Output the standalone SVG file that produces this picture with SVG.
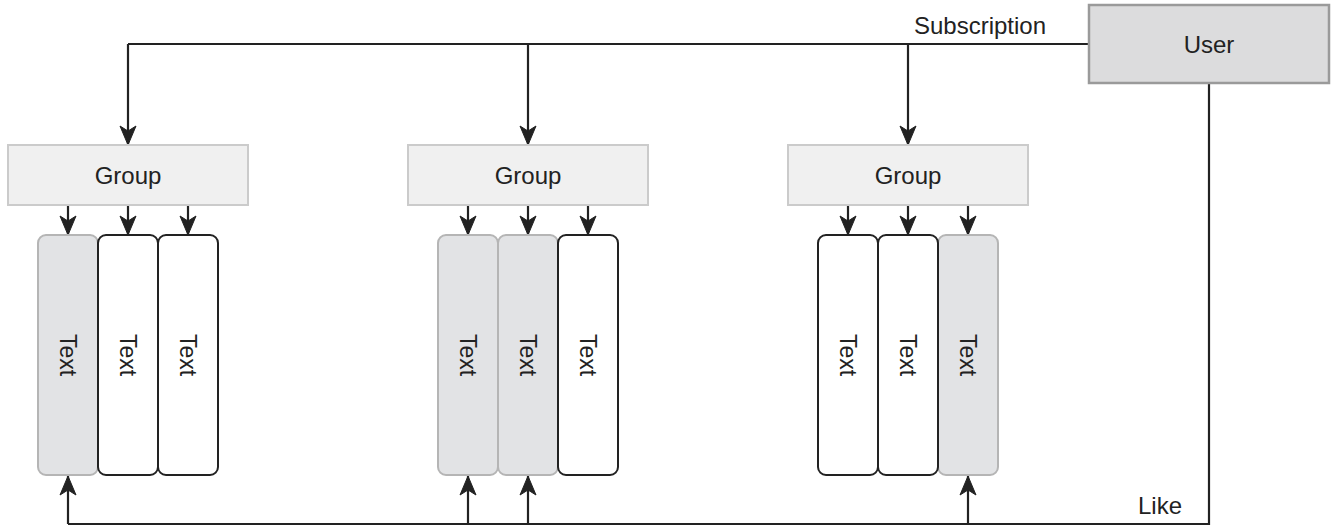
<svg xmlns="http://www.w3.org/2000/svg" width="1338" height="526" viewBox="0 0 1338 526">
<style>
text{font-family:"Liberation Sans",Arial,sans-serif;fill:#222}
.lbl{font-size:24px}
.col{font-size:23px}
.user{fill:#dcdcdd;stroke:#9a9a9a;stroke-width:2.5}
.grp{fill:#f0f0f0;stroke:#cbcbcb;stroke-width:2}
.gray{fill:#e2e3e5;stroke:#b5b5b5;stroke-width:2}
.white{fill:#fff;stroke:#222;stroke-width:2}
.edge{fill:none;stroke:#222;stroke-width:2.2}
.arr{marker-end:url(#ah)}
</style>
<defs>
<marker id="ah" markerUnits="userSpaceOnUse" viewBox="-1 -1 22 18" markerWidth="22" markerHeight="18" refX="19" refY="8" orient="auto">
<path d="M0,0 L19,8 L0,16 L5,8 z" fill="#222" stroke="#222" stroke-width="1" stroke-linejoin="miter"/>
</marker>
</defs>
<rect width="1338" height="526" fill="#fff"/>
<g id="connectors">
<path class="edge" d="M1089,44 H128"/>
<path class="edge arr" d="M128,44 V145"/>
<path class="edge arr" d="M528,44 V145"/>
<path class="edge arr" d="M908,44 V145"/>
<path class="edge arr" d="M68,205 V235"/>
<path class="edge arr" d="M128,205 V235"/>
<path class="edge arr" d="M188,205 V235"/>
<path class="edge arr" d="M468,205 V235"/>
<path class="edge arr" d="M528,205 V235"/>
<path class="edge arr" d="M588,205 V235"/>
<path class="edge arr" d="M848,205 V235"/>
<path class="edge arr" d="M908,205 V235"/>
<path class="edge arr" d="M968,205 V235"/>
<path class="edge" d="M1209,83 V524 H68"/>
<path class="edge arr" d="M68,524 V476"/>
<path class="edge arr" d="M468,524 V476"/>
<path class="edge arr" d="M528,524 V476"/>
<path class="edge arr" d="M968,524 V476"/>
<text class="lbl" x="980" y="34" text-anchor="middle">Subscription</text>
<text class="lbl" x="1160" y="514" text-anchor="middle">Like</text>
</g>
<g id="user">
<rect class="user" x="1089" y="5" width="240" height="78"/>
<text class="lbl" x="1209" y="53" text-anchor="middle">User</text>
</g>
<g id="group1">
<rect class="grp" x="8" y="145" width="240" height="60"/>
<text class="lbl" x="128" y="184" text-anchor="middle">Group</text>
</g>
<g id="group2">
<rect class="grp" x="408" y="145" width="240" height="60"/>
<text class="lbl" x="528" y="184" text-anchor="middle">Group</text>
</g>
<g id="group3">
<rect class="grp" x="788" y="145" width="240" height="60"/>
<text class="lbl" x="908" y="184" text-anchor="middle">Group</text>
</g>
<g id="g1c1">
<rect class="gray" x="38" y="235" width="60" height="240" rx="8"/>
<text class="col" transform="translate(68,355) rotate(90)" y="8" text-anchor="middle">Text</text>
</g>
<g id="g1c2">
<rect class="white" x="98" y="235" width="60" height="240" rx="8"/>
<text class="col" transform="translate(128,355) rotate(90)" y="8" text-anchor="middle">Text</text>
</g>
<g id="g1c3">
<rect class="white" x="158" y="235" width="60" height="240" rx="8"/>
<text class="col" transform="translate(188,355) rotate(90)" y="8" text-anchor="middle">Text</text>
</g>
<g id="g2c1">
<rect class="gray" x="438" y="235" width="60" height="240" rx="8"/>
<text class="col" transform="translate(468,355) rotate(90)" y="8" text-anchor="middle">Text</text>
</g>
<g id="g2c2">
<rect class="gray" x="498" y="235" width="60" height="240" rx="8"/>
<text class="col" transform="translate(528,355) rotate(90)" y="8" text-anchor="middle">Text</text>
</g>
<g id="g2c3">
<rect class="white" x="558" y="235" width="60" height="240" rx="8"/>
<text class="col" transform="translate(588,355) rotate(90)" y="8" text-anchor="middle">Text</text>
</g>
<g id="g3c3">
<rect class="gray" x="938" y="235" width="60" height="240" rx="8"/>
<text class="col" transform="translate(968,355) rotate(90)" y="8" text-anchor="middle">Text</text>
</g>
<g id="g3c1">
<rect class="white" x="818" y="235" width="60" height="240" rx="8"/>
<text class="col" transform="translate(848,355) rotate(90)" y="8" text-anchor="middle">Text</text>
</g>
<g id="g3c2">
<rect class="white" x="878" y="235" width="60" height="240" rx="8"/>
<text class="col" transform="translate(908,355) rotate(90)" y="8" text-anchor="middle">Text</text>
</g>
</svg>
